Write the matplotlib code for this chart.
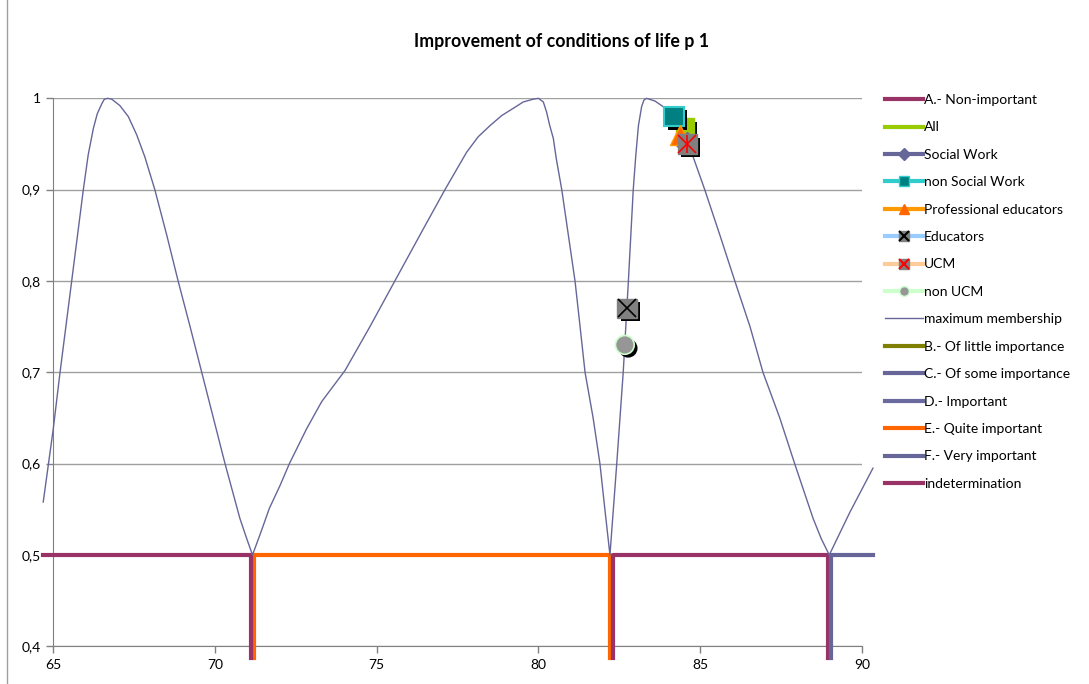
import matplotlib
matplotlib.use('Agg')
import matplotlib.pyplot as plt
import matplotlib.patheffects as pe
from matplotlib.lines import Line2D
from matplotlib.legend_handler import HandlerTuple
from matplotlib.ticker import FuncFormatter

plt.rcParams['font.family'] = ['Lato', 'DejaVu Sans']

# maximum membership curve
curve_x = [64.69, 65.00, 65.21, 65.57, 65.93, 66.08, 66.24, 66.36, 66.50, 66.58,
           66.68, 66.81, 67.06, 67.32, 67.58, 67.83, 68.14, 68.51, 68.86, 69.23,
           69.59, 69.95, 70.31, 70.77, 70.98, 71.16,
           71.44, 71.68, 72.01, 72.30, 72.83, 73.30, 74.02, 74.79, 75.56, 76.44,
           77.11, 77.78, 78.14, 78.50, 78.86, 79.22, 79.53, 79.84, 80.00, 80.15,
           80.25, 80.35, 80.46, 80.55, 80.72, 81.13, 81.28, 81.44, 81.69, 81.90,
           82.05, 82.21,
           82.42, 82.62, 82.78, 82.93, 83.01, 83.09, 83.19, 83.26, 83.34, 83.60,
           83.85, 84.12, 84.37, 84.73, 85.14, 85.61, 86.07, 86.54, 86.94, 87.46,
           87.92, 88.49, 88.74, 88.99, 89.63, 90.34]
curve_y = [0.558, 0.638, 0.700, 0.800, 0.900, 0.938, 0.967, 0.983, 0.994, 0.999,
           1.000, 0.999, 0.992, 0.980, 0.960, 0.936, 0.900, 0.850, 0.800, 0.750,
           0.700, 0.650, 0.600, 0.540, 0.518, 0.500,
           0.527, 0.551, 0.576, 0.600, 0.638, 0.668, 0.702, 0.750, 0.800, 0.857,
           0.900, 0.941, 0.958, 0.970, 0.981, 0.989, 0.996, 0.999, 1.000, 0.996,
           0.985, 0.970, 0.956, 0.934, 0.900, 0.800, 0.752, 0.700, 0.650, 0.600,
           0.551, 0.500,
           0.600, 0.700, 0.800, 0.900, 0.938, 0.970, 0.991, 0.998, 1.000, 0.997,
           0.991, 0.981, 0.970, 0.941, 0.900, 0.850, 0.800, 0.750, 0.700, 0.650,
           0.600, 0.540, 0.518, 0.500, 0.547, 0.595]

# alpha cuts at 0.5
cut_a_x = [64.69, 71.1, 71.1]
cut_a_y = [0.5, 0.5, 0.387]
cut_e_x = [71.2, 71.2, 82.2, 82.2]
cut_e_y = [0.387, 0.5, 0.5, 0.387]
cut_ind_x = [82.3, 82.3, 88.95, 88.95]
cut_ind_y = [0.387, 0.5, 0.5, 0.387]
cut_f_x = [89.05, 89.05, 90.34]
cut_f_y = [0.387, 0.5, 0.5]

# group points
all_pt = (84.53, 0.968)
social_pt = (84.60, 0.950)
nonsocial_pt = (84.19, 0.980)
prof_pt = (84.37, 0.960)
educ_pt = (82.74, 0.770)
ucm_pt = (84.60, 0.950)
nonucm_pt = (82.67, 0.730)

x_ticks = [65, 70, 75, 80, 85, 90]
y_ticks = [0.4, 0.5, 0.6, 0.7, 0.8, 0.9, 1.0]

MAROON = '#993366'
ORANGE = '#FF6600'
PURPLE = '#666699'

fig = plt.figure(figsize=(10.89, 6.84), dpi=100)
ax = fig.add_axes([0.0489, 0.0551, 0.7426, 0.8012])

ax.set_xlim(65, 90)
ax.set_ylim(0.4, 1.0)
ax.set_xticks(x_ticks)
ax.set_yticks(y_ticks)
ax.yaxis.set_major_formatter(FuncFormatter(lambda v, p: ('%g' % round(v, 1)).replace('.', ',')))
ax.tick_params(axis='both', colors='#808080', length=5, width=1, labelsize=10,
               labelcolor='black', pad=4)
ax.grid(True, axis='y', color='#A0A0A0', linewidth=1)
ax.set_axisbelow(True)
for s in ['top', 'right']:
    ax.spines[s].set_visible(False)
for s in ['left', 'bottom']:
    ax.spines[s].set_color('#808080')

ax.plot(cut_e_x, cut_e_y, color=ORANGE, lw=3, clip_on=False, zorder=3)
ax.plot(cut_a_x, cut_a_y, color=MAROON, lw=3, clip_on=False, zorder=3)
ax.plot(cut_ind_x, cut_ind_y, color=MAROON, lw=3, clip_on=False, zorder=3)
ax.plot(cut_f_x, cut_f_y, color=PURPLE, lw=3, clip_on=False, zorder=3)

ax.plot(curve_x, curve_y, color=PURPLE, lw=1, clip_on=False, zorder=4,
        solid_joinstyle='round')

shadow = [pe.SimplePatchShadow(offset=(2.4, -2.4), shadow_rgbFace='black', alpha=1), pe.Normal()]

ax.plot(*all_pt, marker='s', ms=13, mfc='#99CC00', mec='#99CC00', zorder=5,
        path_effects=shadow)
ax.plot(*social_pt, marker='D', ms=12, mfc=PURPLE, mec=PURPLE, zorder=5)
ax.plot(*nonsocial_pt, marker='s', ms=14, mfc='#008080', mec='#33CCCC', mew=1.5,
        zorder=6, path_effects=shadow)
ax.plot(*prof_pt, marker='^', ms=14, mfc=ORANGE, mec='#FF9900', zorder=6)
ax.plot(*ucm_pt, marker='s', ms=14, mfc='#808080', mec='#808080', zorder=7,
        path_effects=shadow)
ax.plot(*ucm_pt, marker='x', ms=13, mec='red', mew=1.2, zorder=8)
ax.plot(*ucm_pt, marker='|', ms=13, mec='red', mew=1.2, zorder=8)
ax.plot(*educ_pt, marker='s', ms=14, mfc='#808080', mec='#808080', zorder=7,
        path_effects=shadow)
ax.plot(*educ_pt, marker='x', ms=13, mec='black', mew=1.2, zorder=8)
ax.plot(*nonucm_pt, marker='o', ms=13.5, mfc='#969696', mec='#CCFFCC', mew=1.2,
        zorder=7, path_effects=shadow)

fig.text(0.516, 0.94, 'Improvement of conditions of life p 1', ha='center', va='center',
         fontsize=12.8, fontweight='bold')

# chart frame on the left
fig.add_artist(Line2D([7 / 1089, 7 / 1089], [0, 1], color='#A0A0A0', lw=1,
                      transform=fig.transFigure))

handles = [
    Line2D([], [], color=MAROON, lw=3),
    Line2D([], [], color='#99CC00', lw=3),
    Line2D([], [], color=PURPLE, lw=3, marker='D', ms=6, mfc=PURPLE, mec=PURPLE),
    Line2D([], [], color='#33CCCC', lw=3, marker='s', ms=7, mfc='#008080', mec='#33CCCC'),
    Line2D([], [], color='#FF9900', lw=3, marker='^', ms=7, mfc=ORANGE, mec=ORANGE),
    (Line2D([], [], color='#99CCFF', lw=3, marker='s', ms=7, mfc='#808080', mec='#808080'),
     Line2D([], [], ls='none', marker='x', ms=7, mec='black', mew=1.5)),
    (Line2D([], [], color='#FFCC99', lw=3, marker='s', ms=7, mfc='#808080', mec='#808080'),
     Line2D([], [], ls='none', marker='x', ms=7, mec='red', mew=1.5)),
    Line2D([], [], color='#CCFFCC', lw=3, marker='o', ms=7, mfc='#969696', mec='#CCFFCC'),
    Line2D([], [], color=PURPLE, lw=1),
    Line2D([], [], color='#808000', lw=3),
    Line2D([], [], color=PURPLE, lw=3),
    Line2D([], [], color='#6A6A9E', lw=3),
    Line2D([], [], color=ORANGE, lw=3),
    Line2D([], [], color=PURPLE, lw=3),
    Line2D([], [], color=MAROON, lw=3),
]
labels = ['A.- Non-important', 'All', 'Social Work', 'non Social Work',
          'Professional educators', 'Educators', 'UCM', 'non UCM',
          'maximum membership', 'B.- Of little importance', 'C.- Of some importance',
          'D.- Important', 'E.- Quite important', 'F.- Very important', 'indetermination']

fig.legend(handles, labels, loc='upper left', bbox_to_anchor=(885 / 1089, 1 - 94 / 684),
           frameon=False, fontsize=10, handlelength=2.7, handletextpad=0.1,
           labelspacing=1.11, borderpad=0, borderaxespad=0,
           handler_map={tuple: HandlerTuple(ndivide=1)})

fig.savefig('out.png', dpi=100)
